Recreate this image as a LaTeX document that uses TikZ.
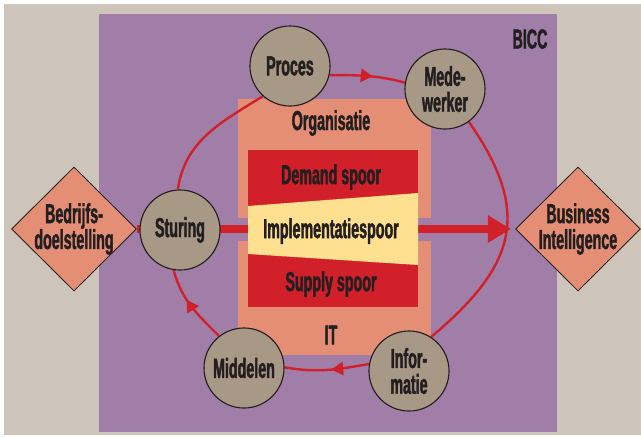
\documentclass[tikz,border=0pt]{standalone}
\usepackage{fontspec}
\setmainfont{Liberation Sans}[FakeStretch=0.52,FakeBold=1.5]
\usetikzlibrary{shapes,arrows.meta,decorations.markings}
\definecolor{zand}{RGB}{206,197,186}
\definecolor{paars}{RGB}{160,126,167}
\definecolor{zalm}{RGB}{228,142,117}
\definecolor{rood}{RGB}{210,32,42}
\definecolor{geel}{RGB}{254,224,144}
\definecolor{steen}{RGB}{168,152,134}
\definecolor{inkt}{RGB}{35,31,32}
\pgfdeclarelayer{back}
\pgfdeclarelayer{mid}
\pgfsetlayers{back,mid,main}
\begin{document}
\begin{tikzpicture}[x=0.025cm,y=-0.025cm,font=\fontsize{19.5pt}{18.4pt}\selectfont\bfseries]
\tikzstyle{every node}=[text=inkt,align=center,inner sep=0pt]
\tikzstyle{stap}=[circle,draw=inkt,line width=0.8pt,fill=steen,minimum size=2cm]
\tikzstyle{doel}=[diamond,draw=inkt,line width=0.6pt,fill=zalm,minimum width=3.125cm,minimum height=3.1cm,inner sep=-8pt]
\tikzstyle{kring}=[rood,line width=1.7pt]
\tikzstyle{pijl}=[postaction={decorate,decoration={markings,mark=at position #1 with {\arrow{Triangle[length=0.3cm,width=0.33cm]}}}}]
\tikzstyle{spoorpijl}=[rood,line width=0.19cm,shorten >=0.1cm,-{Triangle[length=0.58cm,width=0.65cm]}]
\useasboundingbox (0,0) rectangle (641,437);
\node[doel] (doel) at (74,229) {Bedrijfs-\\doelstelling};
\node[doel] (bi) at (578,229) {Business\\Intelligence};
\node[stap] (sturing) at (180,230) {Sturing};
\node[stap] (proces) at (290,66) {Proces};
\node[stap] (medewerker) at (445,89) {Mede-\\werker};
\node[stap] (informatie) at (409,371) {Infor-\\matie};
\node[stap] (middelen) at (244,368) {Middelen};
\node (bicc) at (530,39) {BICC};
\node (organisatie) at (331,123) {Organisatie};
\node (demand) at (331,177) {Demand spoor};
\node (implementatie) at (331,231) {Implementatiespoor};
\node (supply) at (331,284) {Supply spoor};
\node (it) at (331,335) {IT};

\begin{pgfonlayer}{back}
\fill[white] (0,0) rectangle (641,437);
\fill[zand] (4,4) rectangle (641,435);
\fill[paars] (99,14) rectangle (557,432);
\fill[zalm] (238,99) rectangle (431,218);
\fill[zalm] (238,241) rectangle (431,355);
\draw[spoorpijl] (doel.east) -- (bi.west);
\end{pgfonlayer}
\begin{pgfonlayer}{mid}
\fill[rood] (248,150) rectangle (418,307);
\fill[geel] (248,206) -- (418,193) -- (418,265) -- (248,254) -- cycle;
\draw[kring] (sturing.93) to[out=82,in=212] (proces.228);
\draw[kring,pijl=0.57] (proces.-13) to[out=0,in=165] (medewerker.171);
\draw[kring] (medewerker.-54) to[out=-55,in=40,looseness=1.3] (informatie.57);
\draw[kring,pijl=0.45] (informatie.170) to[out=190,in=-10] (middelen.1);
\draw[kring,pijl=0.6] (middelen.128) to[out=135,in=-75] (sturing.-99);
\end{pgfonlayer}
\end{tikzpicture}
\end{document}
